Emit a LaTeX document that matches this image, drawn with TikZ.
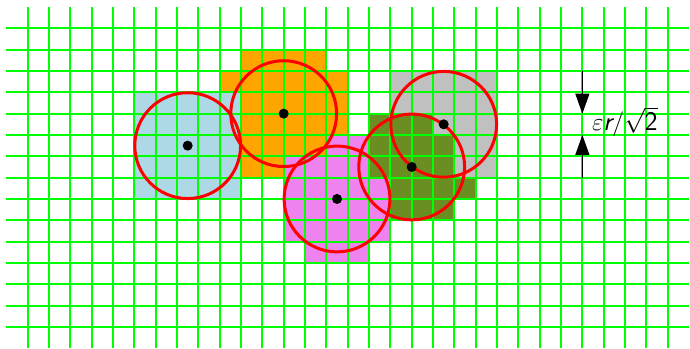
\documentclass[tikz,border=0pt]{standalone}
\usetikzlibrary{arrows.meta}
\definecolor{gridgreen}{RGB}{0,255,0}
\definecolor{cellblue}{RGB}{173,216,230}
\definecolor{cellorange}{RGB}{255,165,0}
\definecolor{cellpink}{RGB}{238,130,238}
\definecolor{cellolive}{RGB}{107,142,35}
\definecolor{cellgrey}{RGB}{192,192,192}
\begin{document}
\begin{tikzpicture}[x=21.333pt,y=-21.333pt,
  gridline/.style={gridgreen,line width=1.9pt},
  ring/.style={red,line width=3pt},
  centre/.style={circle,fill=black,inner sep=0pt,minimum size=10pt},
  dimline/.style={black,line width=1.2pt,-{Triangle[length=20pt,width=14pt]}},
  dimlabel/.style={anchor=west,inner sep=2pt,font=\fontsize{27}{32}\selectfont}]
\useasboundingbox (-1.298,-1.327) rectangle (31.045,14.986);
% coloured cells
\fill[cellblue] (5,3) rectangle (10,8);
\fill[cellorange] (10,1) rectangle (14,2);
\fill[cellorange] (9,2) rectangle (15,3);
\fill[cellorange] (10,3) rectangle (15,5);
\fill[cellorange] (10,5) rectangle (14,6);
\fill[cellorange] (10,6) rectangle (12,7);
\fill[cellpink] (14,5) rectangle (16,6);
\fill[cellpink] (12,6) rectangle (16,7);
\fill[cellpink] (12,7) rectangle (17,10);
\fill[cellpink] (13,10) rectangle (16,11);
\fill[cellgrey] (17,2) rectangle (22,4);
\fill[cellgrey] (19,4) rectangle (22,5);
\fill[cellgrey] (20,5) rectangle (22,7);
\fill[cellolive] (16,4) rectangle (19,5);
\fill[cellolive] (16,5) rectangle (20,7);
\fill[cellolive] (17,7) rectangle (21,8);
\fill[cellolive] (17,8) rectangle (20,9);
% grid
\foreach \j in {0,...,14} \draw[gridline] (-1,\j) -- (31,\j);
\foreach \i in {0,...,30} \draw[gridline] (\i,-1) -- (\i,15);
% centres and circles
\coordinate (pb) at (7.5,5.5);
\coordinate (po) at (12,4);
\coordinate (pp) at (14.5,8);
\coordinate (pl) at (18,6.5);
\coordinate (pg) at (19.5,4.5);
\foreach \p in {pb,po,pp,pl,pg} \draw[ring] (\p) circle[radius=2.48];
\node[centre] (db) at (pb) {};
\node[centre] (do) at (po) {};
\node[centre] (dp) at (pp) {};
\node[centre] (dl) at (pl) {};
\node[centre] (dg) at (pg) {};
% dimension
\coordinate (dtop) at (26,2);
\coordinate (dtipa) at (26,4);
\coordinate (dtipb) at (26,5);
\coordinate (dbot) at (26,7);
\draw[dimline] (dtop) -- (dtipa);
\draw[dimline] (dbot) -- (dtipb);
\node[dimlabel] (lab) at (26.35,4.4) {$\varepsilon\textsf{\itshape r}/\sqrt{\textsf{2}}$};
\end{tikzpicture}
\end{document}
